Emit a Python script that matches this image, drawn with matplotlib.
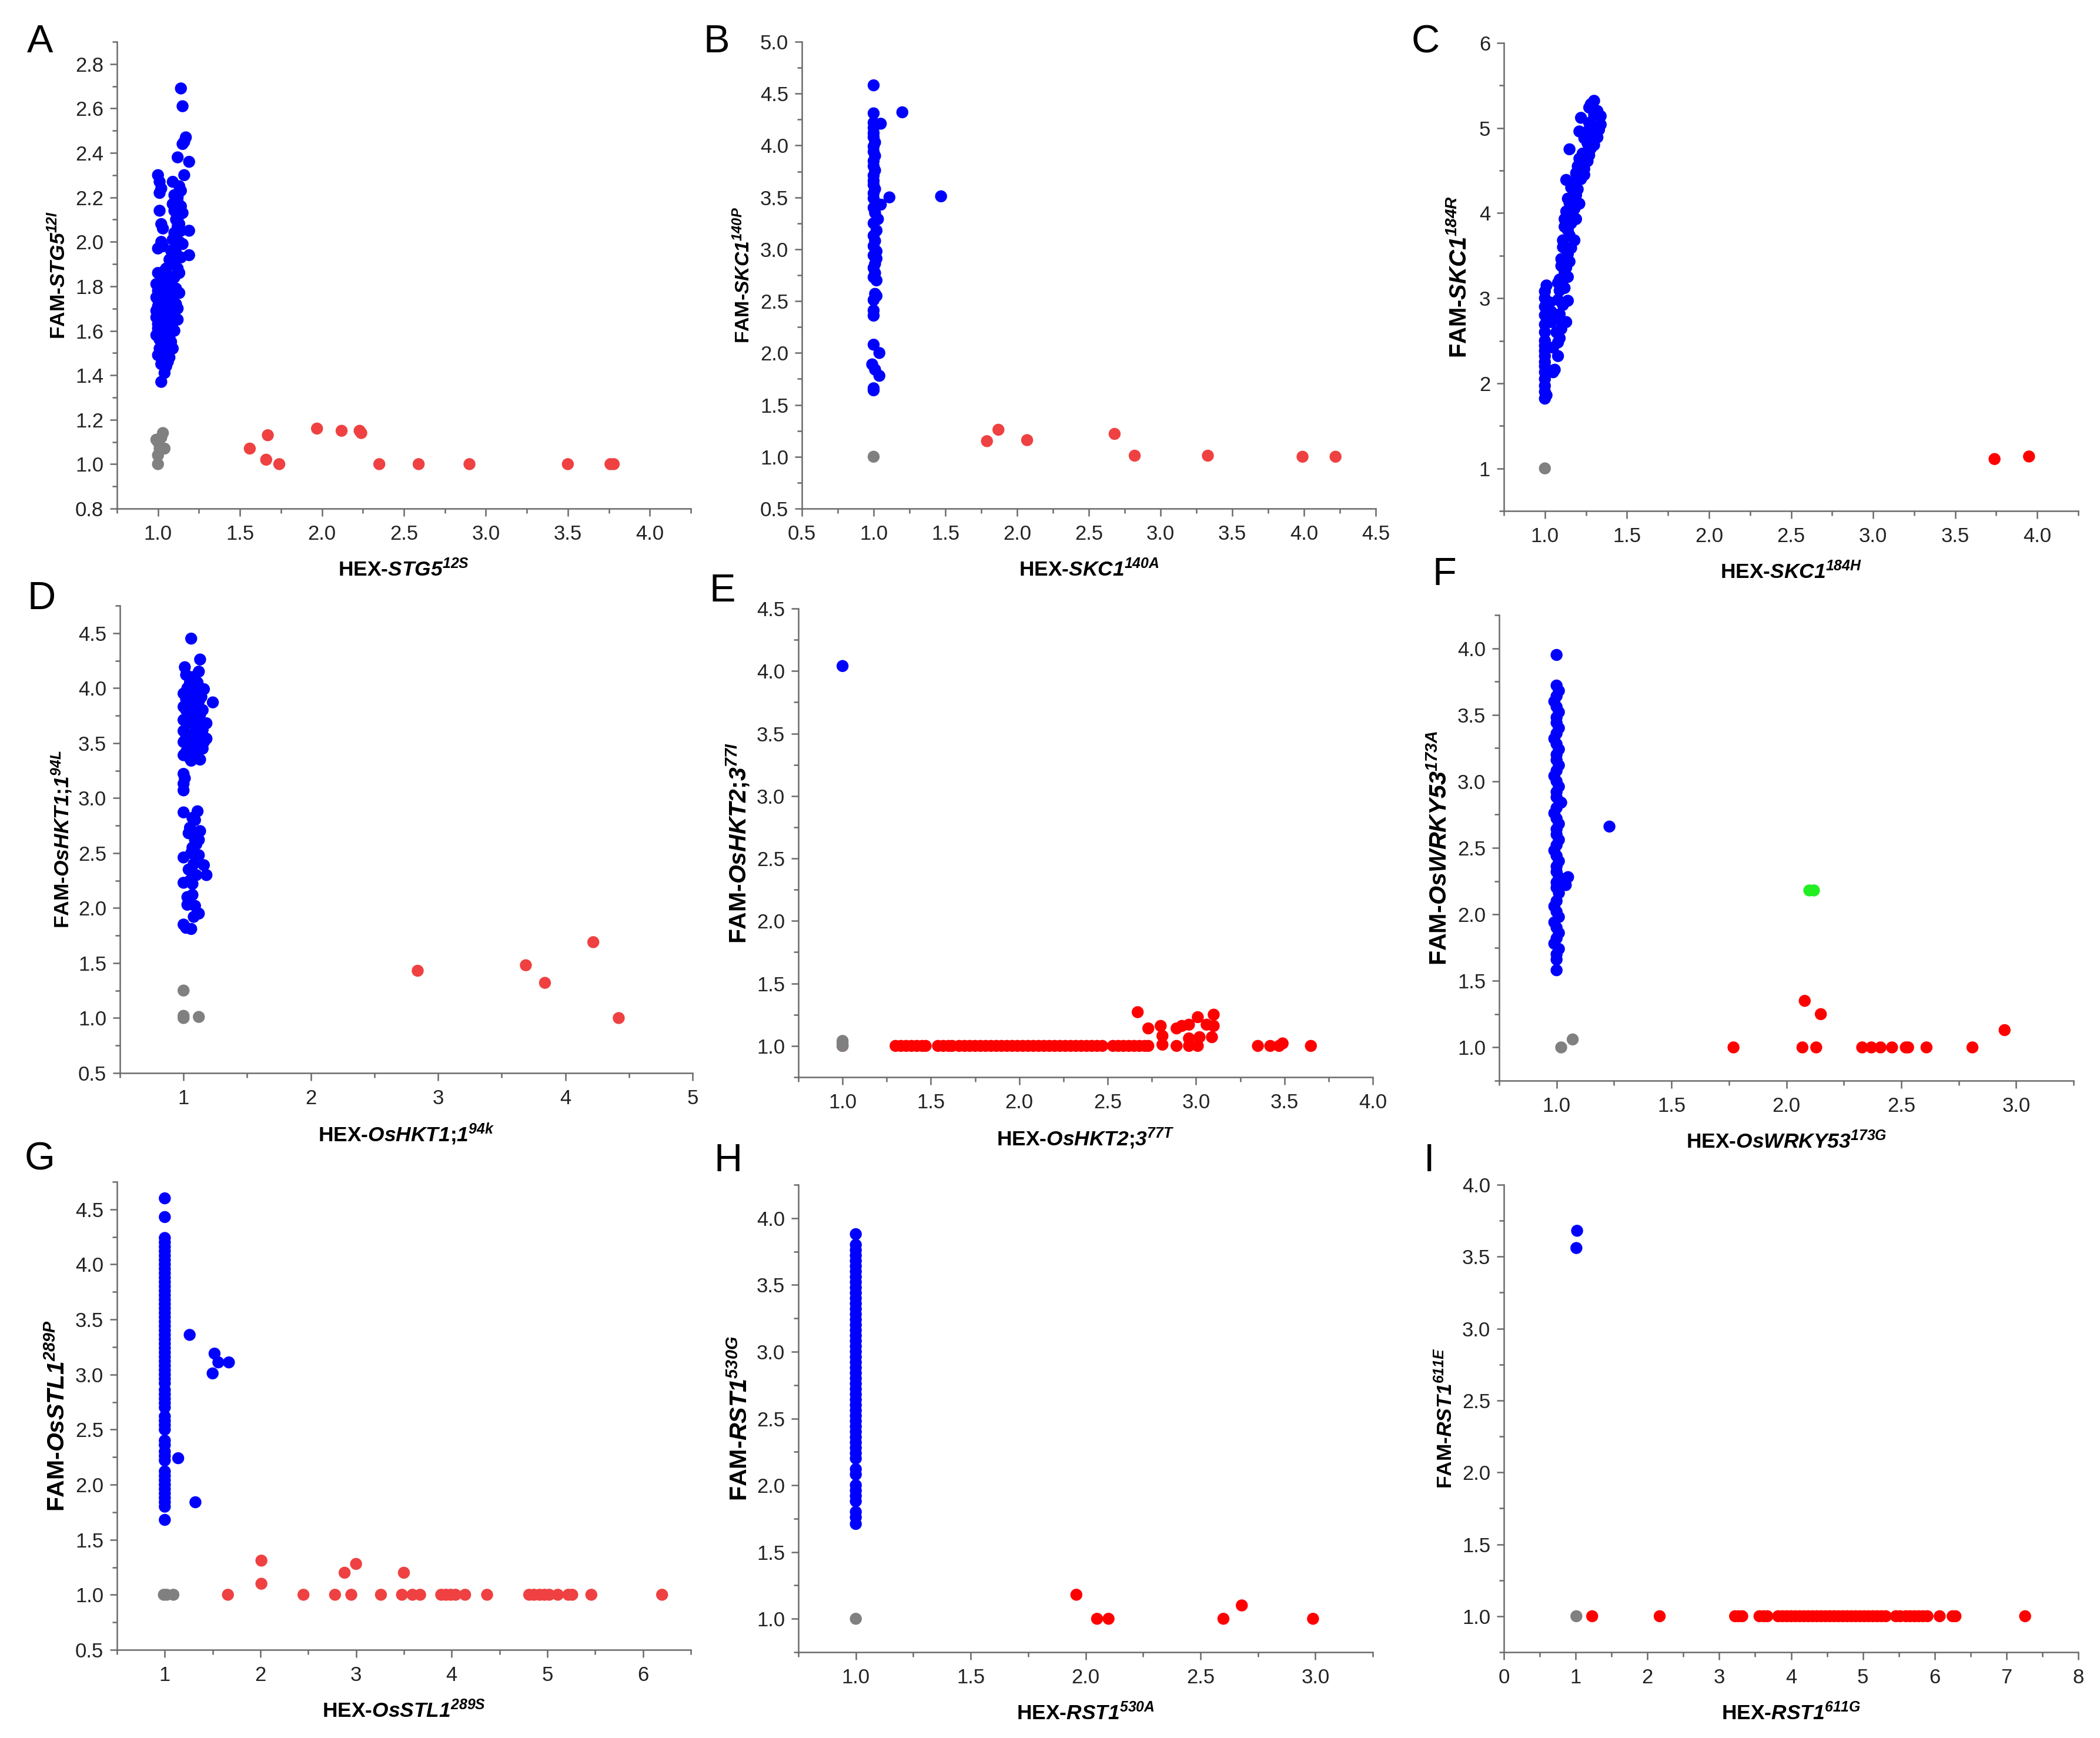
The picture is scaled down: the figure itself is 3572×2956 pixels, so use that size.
import matplotlib.pyplot as plt
from matplotlib.ticker import MultipleLocator, AutoMinorLocator, FormatStrFormatter

plt.rcParams['font.family'] = ['Liberation Sans', 'DejaVu Sans']
plt.rcParams['mathtext.fontset'] = 'custom'
# the whole math part of a label is the gene name -> bold italic, digits included
plt.rcParams['mathtext.it'] = 'Liberation Sans:italic:bold'
plt.rcParams['mathtext.rm'] = 'Liberation Sans:italic:bold'
plt.rcParams['mathtext.bf'] = 'Liberation Sans:italic:bold'

# ---- data: (HEX, FAM) pairs per genotype group ----

# A  STG5
a_blue = [(1.14,2.69),(1.15,2.61),(1.17,2.47),(1.15,2.44),(1.16,2.45),(1.12,2.38),(1.19,2.36),
          (1.16,2.30),(1.00,2.30),(1.01,2.27),(1.02,2.24),(1.09,2.27),(1.14,2.23),(1.13,2.25),
          (1.10,2.21),(1.12,2.18),(1.14,2.16),(1.09,2.17),(1.13,2.12),(1.11,2.10),(1.15,2.13),
          (1.01,2.14),(1.02,2.08),(1.03,2.06),(1.12,2.07),(1.10,2.04),(1.14,2.05),(1.19,2.05),
          (1.09,2.01),(1.13,2.00),(1.15,1.99),(1.02,2.00),(1.00,1.97),(1.03,1.98),(1.08,1.96),
          (1.11,1.95),(1.19,1.94),(1.14,1.93),(1.10,1.90),(1.07,1.92),(1.12,1.88),(1.13,1.86),
          (1.04,1.87),(1.00,1.86),(1.06,1.85),(1.09,1.84),(1.02,1.83),(0.99,1.81),(1.05,1.80),
          (1.08,1.82),(1.11,1.79),(1.00,1.78),(1.03,1.77),(1.07,1.76),(1.13,1.77),(0.99,1.75),
          (1.02,1.74),(1.05,1.73),(1.09,1.74),(1.11,1.72),(1.00,1.71),(1.04,1.70),(1.07,1.69),
          (1.01,1.68),(1.06,1.67),(1.10,1.68),(0.99,1.66),(1.03,1.65),(1.09,1.64),(1.12,1.65),
          (1.00,1.63),(1.05,1.62),(1.08,1.61),(1.02,1.60),(0.99,1.58),(1.04,1.59),(1.07,1.57),
          (1.01,1.56),(1.05,1.55),(1.03,1.53),(1.09,1.52),(1.00,1.49),(1.04,1.50),(1.07,1.48),
          (1.02,1.45),(1.05,1.44),(1.04,1.41),(1.02,1.37),
          (1.01,1.80),(1.03,1.85),(1.06,1.78),(1.08,1.72),(1.00,1.74),(1.02,1.70),(1.04,1.64),
          (1.06,1.60),(1.00,1.61),(1.03,1.57),(1.08,1.55),(1.01,1.52),(1.06,1.52),(1.10,1.60),
          (1.12,1.70),(1.10,1.84),(1.05,1.88),(1.11,1.98),(1.13,2.08),(1.10,2.14),(1.12,2.20),
          (1.01,2.22),(0.99,1.69),(1.03,1.47),(1.06,1.46)]
a_gray = [(1.00,1.00),(1.00,1.04),(1.01,1.07),(1.00,1.10),(0.99,1.11),(1.04,1.07),(1.03,1.14),(1.02,1.12)]
a_red = [(1.56,1.07),(1.67,1.13),(1.66,1.02),(1.74,1.00),(1.97,1.16),(2.12,1.15),(2.23,1.15),
         (2.24,1.14),(2.35,1.00),(2.59,1.00),(2.90,1.00),(3.50,1.00),(3.76,1.00),(3.78,1.00)]

# B  SKC1 140
b_blue = [(1.00,4.58),(1.00,4.31),(1.20,4.32),(1.05,4.21),(1.00,4.22),(1.00,4.17),(1.00,4.12),
          (1.00,4.08),(1.01,4.03),(1.00,3.99),(1.00,3.94),(1.01,3.90),(1.00,3.85),(1.00,3.80),
          (1.01,3.76),(1.00,3.71),(1.00,3.66),(1.00,3.62),(1.01,3.58),(1.00,3.54),(1.11,3.50),
          (1.47,3.51),(1.00,3.49),(1.05,3.43),(1.00,3.40),(1.01,3.35),(1.03,3.29),(1.00,3.25),
          (1.02,3.18),(1.00,3.13),(1.01,3.08),(1.00,3.03),(1.02,2.98),(1.00,2.94),(1.02,2.91),
          (1.01,2.86),(1.00,2.82),(1.01,2.77),(1.00,2.73),(1.02,2.70),(1.01,2.57),(1.02,2.55),
          (1.00,2.51),(1.00,2.41),(1.00,2.36),(1.00,2.08),(1.04,2.00),(0.99,1.89),(1.01,1.84),
          (1.04,1.78),(1.00,1.66),(1.00,1.64)]
b_gray = [(1.00,1.00)]
b_red = [(1.79,1.15),(1.87,1.26),(2.07,1.16),(2.68,1.22),(2.82,1.01),(3.33,1.01),(3.99,1.00),(4.22,1.00)]

# C  SKC1 184
c_blue = [(1.30,5.32),(1.27,5.24),(1.34,5.14),(1.22,5.12),(1.31,5.01),(1.26,4.96),(1.21,4.96),
          (1.32,4.89),(1.26,4.82),(1.15,4.75),(1.26,4.61),(1.21,4.64),(1.24,4.45),(1.13,4.39),
          (1.18,4.36),(1.19,4.21),(1.14,4.17),(1.16,3.99),(1.12,3.93),(1.19,3.93),(1.14,3.80),
          (1.11,3.68),(1.16,3.59),(1.10,3.46),(1.15,3.43),(1.12,3.31),(1.14,3.25),(1.01,3.15),
          (1.09,3.09),(1.14,2.97),(1.00,3.00),(1.00,2.90),(1.09,2.81),(1.13,2.72),(1.00,2.69),
          (1.09,2.53),(1.00,2.50),(1.00,2.32),(1.08,2.32),(1.05,2.13),(1.00,2.13),(1.00,1.97),
          (1.00,1.82),(1.00,2.44),(1.00,2.25),(1.07,2.60),(1.04,2.84),(1.08,3.18),(1.18,3.68),
          (1.21,4.11),(1.28,4.76),(1.34,5.04),(1.32,5.20),
          (1.28,5.28),(1.30,5.15),(1.27,5.06),(1.33,4.98),(1.29,4.92),(1.24,4.88),(1.30,4.80),
          (1.23,4.70),(1.27,4.68),(1.20,4.55),(1.24,4.52),(1.19,4.47),(1.22,4.40),(1.16,4.30),
          (1.20,4.28),(1.15,4.12),(1.18,4.05),(1.13,4.02),(1.16,3.88),(1.12,3.84),(1.15,3.74),
          (1.11,3.60),(1.14,3.52),(1.10,3.38),(1.13,3.36),(1.09,3.22),(1.12,3.12),(1.08,2.98),
          (1.11,2.92),(1.07,2.76),(1.10,2.64),(1.08,2.48),(1.00,3.08),(1.00,2.80),(1.00,2.60),
          (1.00,2.38),(1.00,2.20),(1.00,2.05),(1.00,1.90),(1.01,1.86),(1.03,2.95),(1.04,2.72),
          (1.06,2.16),(1.05,2.42)]
c_gray = [(1.00,1.00)]
c_red = [(3.74,1.11),(3.95,1.14)]

# D  OsHKT1;1
d_blue = [(1.06,4.45),(1.13,4.26),(1.01,4.19),(1.12,4.15),(1.07,4.10),(1.16,3.99),(1.23,3.87),
          (1.00,3.95),(1.06,3.93),(1.12,3.88),(1.00,3.83),(1.07,3.78),(1.18,3.68),(1.00,3.71),
          (1.10,3.63),(1.03,3.58),(1.16,3.51),(1.00,3.51),(1.07,3.46),(1.00,3.39),(1.06,3.34),
          (1.13,3.35),(1.00,3.22),(1.00,3.13),(1.00,3.07),(1.00,2.87),(1.11,2.88),(1.09,2.80),
          (1.05,2.73),(1.13,2.70),(1.09,2.62),(1.10,2.58),(1.06,2.50),(1.00,2.46),(1.08,2.40),
          (1.16,2.39),(1.18,2.30),(1.00,2.23),(1.07,2.22),(1.07,2.12),(1.03,2.03),(1.12,1.95),
          (1.09,2.02),(1.00,1.85),(1.06,1.81),(1.04,3.76),(1.13,3.76),(1.03,4.00),(1.10,3.98),
          (1.13,3.58),(1.04,3.46),(1.09,3.54),(1.00,3.61),(1.18,3.54),(1.05,3.88),
          (1.02,3.90),(1.08,3.92),(1.14,3.92),(1.02,3.80),(1.09,3.82),(1.15,3.80),(1.03,3.68),
          (1.08,3.70),(1.14,3.67),(1.02,3.55),(1.07,3.58),(1.12,3.50),(1.02,3.42),(1.09,3.40),
          (1.15,3.45),(1.05,4.05),(1.11,4.05),(1.02,4.12),(1.15,3.62),(1.05,3.36),(1.04,2.68),
          (1.07,2.55),(1.12,2.48),(1.04,2.35),(1.10,2.30),(1.05,2.25),(1.03,2.10),(1.08,1.92),
          (1.02,1.82),(1.12,2.62),(1.07,2.82),(1.01,3.18)]
d_gray = [(1.00,1.25),(1.00,1.02),(1.00,1.00),(1.12,1.01)]
d_red = [(2.84,1.43),(3.69,1.48),(3.84,1.32),(4.22,1.69),(4.42,1.00)]

# E  OsHKT2;3
e_blue = [(1.00,4.04)]
e_gray = [(1.00,1.00),(1.00,1.02),(1.00,1.04)]
e_red_row = [1.00,1.30,1.33,1.36,1.39,1.42,1.45,1.47,1.54,1.57,1.60,1.62,1.66,1.69,1.72,1.75,
             1.78,1.81,1.84,1.87,1.90,1.93,1.96,1.99,2.02,2.05,2.08,2.11,2.14,2.17,2.20,2.23,
             2.26,2.29,2.32,2.35,2.38,2.41,2.44,2.47,2.53,2.56,2.59,2.62,2.65,2.68,2.71,2.73,
             2.89,2.96,3.01,3.35,3.42,3.47,3.65]
e_red = [(2.67,1.27),(2.73,1.14),(2.80,1.16),(2.81,1.08),(2.81,1.01),(2.89,1.14),(2.92,1.16),
         (2.96,1.17),(2.96,1.06),(3.01,1.23),(3.02,1.07),(3.06,1.17),(3.10,1.25),(3.10,1.16),
         (3.09,1.07),(3.49,1.02)]

# F  OsWRKY53
f_blue_x = [1.00,1.00,1.01,1.00,0.99,1.00,1.01,1.00,1.00,1.01,1.00,0.99,1.00,1.01,1.00,1.00,
            1.01,1.00,0.99,1.00,1.01,1.00,1.00,1.02,1.00,0.99,1.00,1.01,1.00,1.00,1.01,1.00,
            0.99,1.00,1.01,1.00,1.00,1.01,1.00,1.00,1.01,1.00,0.99,1.00,1.01,0.99,1.00,1.01,
            1.00,0.99,1.01,1.00,1.00,1.00,1.23,1.05,1.04]
f_blue_y = [3.95,3.72,3.68,3.64,3.60,3.56,3.52,3.48,3.44,3.40,3.36,3.32,3.28,3.24,3.20,3.16,
            3.12,3.08,3.04,3.00,2.96,2.92,2.88,2.84,2.80,2.76,2.72,2.68,2.64,2.60,2.56,2.52,
            2.48,2.44,2.40,2.36,2.32,2.28,2.24,2.20,2.16,2.10,2.06,2.02,1.98,1.94,1.90,1.86,
            1.82,1.78,1.74,1.70,1.66,1.58,2.66,2.28,2.22]
f_gray = [(1.02,1.00),(1.07,1.06)]
f_green = [(2.10,2.18),(2.12,2.18)]
f_red = [(1.77,1.00),(2.08,1.35),(2.07,1.00),(2.13,1.00),(2.15,1.25),(2.33,1.00),(2.37,1.00),
         (2.41,1.00),(2.46,1.00),(2.52,1.00),(2.53,1.00),(2.61,1.00),(2.81,1.00),(2.95,1.13)]

# G  OsSTL1
g_blue_y = [4.60,4.43,4.24,4.20,4.16,4.12,4.08,4.04,4.00,3.96,3.92,3.88,3.84,3.80,3.76,3.72,
            3.68,3.64,3.60,3.56,3.52,3.48,3.44,3.40,3.36,3.32,3.28,3.24,3.20,3.16,3.12,3.08,
            3.04,3.00,2.96,2.92,2.86,2.82,2.78,2.74,2.70,2.62,2.58,2.54,2.50,2.40,2.36,2.30,
            2.26,2.22,2.12,2.08,2.04,2.00,1.96,1.92,1.88,1.84,1.80,1.68]
g_blue_extra = [(1.26,3.36),(1.52,3.19),(1.56,3.11),(1.67,3.11),(1.50,3.01),(1.14,2.24),(1.32,1.84)]
g_gray = [(0.99,1.00),(1.02,1.00),(1.09,1.00)]
g_red = [(1.66,1.00),(2.01,1.31),(2.01,1.10),(2.45,1.00),(2.78,1.00),(2.88,1.20),(2.95,1.00),
         (3.00,1.28),(3.26,1.00),(3.48,1.00),(3.50,1.20),(3.59,1.00),(3.67,1.00),(3.89,1.00),
         (3.94,1.00),(3.99,1.00),(4.04,1.00),(4.14,1.00),(4.37,1.00),(4.81,1.00),(4.86,1.00),
         (4.92,1.00),(4.97,1.00),(5.02,1.00),(5.11,1.00),(5.22,1.00),(5.26,1.00),(5.46,1.00),
         (6.20,1.00)]

# H  RST1 530
h_blue_y = [3.88,3.80,3.76,3.72,3.68,3.64,3.60,3.56,3.52,3.48,3.44,3.40,3.36,3.32,3.28,3.24,
            3.20,3.16,3.12,3.08,3.04,3.00,2.96,2.92,2.88,2.84,2.80,2.76,2.72,2.68,2.64,2.60,
            2.56,2.52,2.48,2.44,2.40,2.36,2.32,2.28,2.24,2.20,2.12,2.08,2.00,1.96,1.92,1.88,
            1.80,1.76,1.71]
h_gray = [(1.00,1.00)]
h_red = [(1.96,1.18),(2.05,1.00),(2.10,1.00),(2.60,1.00),(2.68,1.10),(2.99,1.00)]

# I  RST1 611
i_blue = [(1.02,3.68),(1.01,3.56)]
i_gray = [(1.01,1.00)]
i_red_row = [1.23,2.17,3.22,3.27,3.32,3.56,3.62,3.67,3.82,3.88,3.94,4.00,4.06,4.12,4.18,4.24,
             4.30,4.36,4.42,4.48,4.54,4.60,4.66,4.72,4.78,4.84,4.90,4.96,5.02,5.08,5.14,5.20,
             5.26,5.32,5.46,5.52,5.60,5.66,5.72,5.78,5.84,5.90,6.07,6.25,6.29,7.26]

BLUE = '#0000FF'
GRAY = '#808080'
RED_SOFT = '#EF4141'
RED = '#FF0000'
GREEN = '#22EE22'

def pairs(p):
    return [q[0] for q in p], [q[1] for q in p]

def gene_label(prefix, gene, sup):
    # a semicolon inside mathtext gets extra space, so keep it outside
    parts = gene.split(';')
    s = prefix + '$' + parts[0] + '$'
    if len(parts) > 1:
        s = prefix + '$' + parts[0] + '$;$' + parts[1] + '$'
    return s[:-1] + '^{' + sup + '}$'

panels = [
    dict(letter='A', rect=(199, 71, 1175, 865), xlim=(0.75, 4.25), ylim=(0.8, 2.9),
         xstep=0.5, ystep=0.2, xfmt='%.1f', yfmt='%.1f', gene='STG5', fam='12I', hex='12S',
         ylab_off=99, ylab_size=8.5, lpos=(46, 89),
         groups=[(a_red, RED_SOFT), (a_gray, GRAY), (a_blue, BLUE)]),
    dict(letter='B', rect=(1364, 71, 2340, 865), xlim=(0.5, 4.5), ylim=(0.5, 5.0),
         xstep=0.5, ystep=0.5, xfmt='%.1f', yfmt='%.1f', gene='SKC1', fam='140P', hex='140A',
         ylab_off=99, ylab_size=8.1, lpos=(1196, 89),
         groups=[(b_red, RED_SOFT), (b_gray, GRAY), (b_blue, BLUE)]),
    dict(letter='C', rect=(2558, 73, 3535, 869), xlim=(0.75, 4.25), ylim=(0.5, 6.0),
         xstep=0.5, ystep=1.0, xfmt='%.1f', yfmt='%d', gene='SKC1', fam='184R', hex='184H',
         ylab_off=76, ylab_size=9.6, lpos=(2401, 89),
         groups=[(c_red, RED), (c_gray, GRAY), (c_blue, BLUE)]),
    dict(letter='D', rect=(204, 1030, 1178, 1825), xlim=(0.5, 5.0), ylim=(0.5, 4.75),
         xstep=1.0, ystep=0.5, xfmt='%d', yfmt='%.1f', gene='OsHKT1;1', fam='94L', hex='94k',
         ylab_off=99, ylab_size=8.5, lpos=(46, 1036),
         groups=[(d_red, RED_SOFT), (d_gray, GRAY), (d_blue, BLUE)]),
    dict(letter='E', rect=(1358, 1035, 2335, 1832), xlim=(0.75, 4.0), ylim=(0.75, 4.5),
         xstep=0.5, ystep=0.5, xfmt='%.1f', yfmt='%.1f', gene='OsHKT2;3', fam='77I', hex='77T',
         ylab_off=103, ylab_size=9.8, lpos=(1207, 1023),
         groups=[([(x, 1.0) for x in e_red_row] + e_red, RED), (e_gray, GRAY), (e_blue, BLUE)]),
    dict(letter='F', rect=(2550, 1046, 3527, 1838), xlim=(0.75, 3.25), ylim=(0.75, 4.25),
         xstep=0.5, ystep=0.5, xfmt='%.1f', yfmt='%.1f', gene='OsWRKY53', fam='173A', hex='173G',
         ylab_off=101, ylab_size=9.9, lpos=(2437, 995),
         groups=[(f_red, RED), (f_gray, GRAY), (f_green, GREEN),
                 (list(zip(f_blue_x, f_blue_y)), BLUE)]),
    dict(letter='G', rect=(199, 2010, 1175, 2806), xlim=(0.5, 6.5), ylim=(0.5, 4.75),
         xstep=1.0, ystep=0.5, xfmt='%d', yfmt='%.1f', gene='OsSTL1', fam='289P', hex='289S',
         ylab_off=101, ylab_size=9.8, lpos=(42, 1989),
         groups=[(g_red, RED_SOFT), (g_gray, GRAY),
                 ([(1.0, y) for y in g_blue_y] + g_blue_extra, BLUE)]),
    dict(letter='H', rect=(1358, 2015, 2335, 2810), xlim=(0.75, 3.25), ylim=(0.75, 4.25),
         xstep=0.5, ystep=0.5, xfmt='%.1f', yfmt='%.1f', gene='RST1', fam='530G', hex='530A',
         ylab_off=99, ylab_size=9.9, lpos=(1215, 1992),
         groups=[(h_red, RED), (h_gray, GRAY), ([(1.0, y) for y in h_blue_y], BLUE)]),
    dict(letter='I', rect=(2558, 2015, 3535, 2810), xlim=(0.0, 8.0), ylim=(0.75, 4.0),
         xstep=1.0, ystep=0.5, xfmt='%d', yfmt='%.1f', gene='RST1', fam='611E', hex='611G',
         ylab_off=99, ylab_size=8.5, lpos=(2422, 1992),
         groups=[([(x, 1.0) for x in i_red_row], RED), (i_gray, GRAY), (i_blue, BLUE)]),
]

W, H = 3572, 2956
fig = plt.figure(figsize=(W / 300, H / 300), dpi=300)

for p in panels:
    x0, y0, x1, y1 = p['rect']
    ax = fig.add_axes([x0 / W, 1 - y1 / H, (x1 - x0) / W, (y1 - y0) / H])
    for pts, col in p['groups']:
        xs, ys = pairs(pts)
        ax.scatter(xs, ys, s=24, c=col, edgecolors='none', clip_on=False, zorder=3)
    ax.set_xlim(*p['xlim'])
    ax.set_ylim(*p['ylim'])
    for side in ['top', 'right']:
        ax.spines[side].set_visible(False)
    for side in ['left', 'bottom']:
        ax.spines[side].set_color('#6a6a6a')
        ax.spines[side].set_linewidth(0.6)
    ax.xaxis.set_major_locator(MultipleLocator(p['xstep']))
    ax.yaxis.set_major_locator(MultipleLocator(p['ystep']))
    ax.xaxis.set_minor_locator(AutoMinorLocator(2))
    ax.yaxis.set_minor_locator(AutoMinorLocator(2))
    ax.xaxis.set_major_formatter(FormatStrFormatter(p['xfmt']))
    ax.yaxis.set_major_formatter(FormatStrFormatter(p['yfmt']))
    ax.tick_params(which='major', length=3, width=0.6, color='#6a6a6a',
                   labelsize=8.3, labelcolor='#222222')
    ax.tick_params(which='minor', length=2, width=0.6, color='#6a6a6a')
    ax.tick_params(axis='x', which='major', pad=3.5)
    ax.tick_params(axis='y', which='major', pad=2.5)

    ylab = gene_label('FAM-', p['gene'], p['fam'])
    xlab = gene_label('HEX-', p['gene'], p['hex'])
    ax.set_ylabel(ylab, fontsize=p['ylab_size'], fontweight='bold', va='center', ha='center')
    ax.set_xlabel(xlab, fontsize=8.5, fontweight='bold', va='center', ha='center')
    ax.yaxis.set_label_coords(-p['ylab_off'] / (x1 - x0), 0.5)
    ax.xaxis.set_label_coords(0.5, -104 / (y1 - y0))

    lx, ly = p['lpos']
    fig.text(lx / W, 1 - ly / H, p['letter'], fontsize=16, ha='left', va='baseline')

fig.savefig('out.png', dpi=300)
